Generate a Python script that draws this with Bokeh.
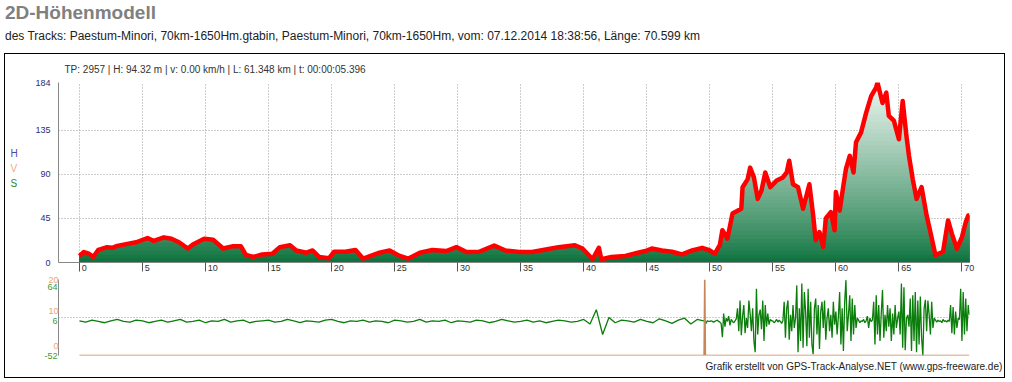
import numpy as np
from bokeh.plotting import figure
from bokeh.models import Range1d, LinearAxis, FixedTicker, Title, Label, Div, Spacer
from bokeh.layouts import column, row
from bokeh.embed import file_html
from bokeh.resources import INLINE

FONT = "Liberation Sans"

title_text = "2D-Höhenmodell"
subtitle_text = ("des Tracks: Paestum-Minori, 70km-1650Hm.gtabin, Paestum-Minori, 70km-1650Hm, "
                 "vom: 07.12.2014 18:38:56, Länge: 70.599 km")
info_text = "TP: 2957 | H: 94.32 m | v: 0.00 km/h | L: 61.348 km | t: 00:00:05.396"
credit_text = "Grafik erstellt von GPS-Track-Analyse.NET (www.gps-freeware.de)"
series_letters = ["H", "V", "S"]

# elevation profile (km, m)
dist_km = [0.0, 0.35, 0.75, 1.1, 1.5, 2.2, 2.6, 3.0, 3.8, 4.5, 5.4, 5.9, 6.7, 7.3, 7.9, 8.6, 9.0, 9.9,
           10.6, 11.4, 12.2, 12.8, 13.2, 13.8, 14.5, 15.3, 15.9, 16.7, 17.2, 18.0, 18.5, 19.0, 19.8,
           20.2, 21.1, 21.9, 22.5, 23.1, 23.8, 24.6, 25.4, 26.1, 27.0, 28.0, 29.1, 29.9, 30.7, 31.7,
           32.9, 33.8, 34.9, 35.9, 37.0, 38.0, 39.3, 39.9, 40.7, 41.2, 41.4, 42.2, 43.3, 44.3, 44.9,
           45.4, 46.2, 47.0, 47.8, 48.6, 49.4, 49.9, 50.4, 50.8, 51.0, 51.4, 51.8, 52.5, 52.6, 53.0,
           53.2, 53.5, 53.8, 54.1, 54.4, 54.8, 55.3, 55.8, 56.1, 56.3, 56.6, 57.0, 57.4, 57.9, 58.2,
           58.4, 58.7, 59.0, 59.2, 59.6, 59.9, 60.0, 60.3, 60.6, 60.8, 61.1, 61.4, 61.6, 62.0, 62.4,
           62.8, 63.2, 63.3, 63.7, 64.0, 64.2, 64.6, 65.0, 65.3, 65.6, 65.8, 66.1, 66.4, 66.8, 67.2,
           67.5, 67.9, 68.5, 68.9, 69.2, 69.6, 70.0, 70.3, 70.5, 70.6]
height_m = [6.7, 10.7, 9, 5.7, 13, 15.7, 15, 17, 19, 20.7, 25, 22, 25.7, 24.3, 20.7, 14.3, 18.3, 24.3,
            23.3, 14.3, 16.7, 16.7, 7.7, 5.7, 8.3, 9, 15.7, 17.7, 12.3, 10, 12.3, 5.7, 4.3,
            11, 11, 12.7, 4, 6.7, 10, 12.3, 6.7, 4, 10, 12.7, 11.7, 15.7, 10.7, 11,
            17.3, 12.3, 10.7, 10.7, 13.3, 15.7, 17.7, 14.3, 3.3, 15, 3.3, 5.7, 6.7, 10, 11.7,
            14.3, 12.3, 11, 8.3, 12.3, 15, 13, 9, 18, 33, 24.4, 50, 55, 77, 85,
            97, 87, 65, 73.6, 92, 77, 83.7, 87, 92, 104, 80, 77, 55, 80, 48,
            22.7, 31, 16, 45, 51.5, 33, 72, 53, 79, 95.6, 109, 92, 123, 133, 153,
            170, 179, 184, 163, 173.6, 150, 145, 126, 165, 129, 109, 85, 65, 77, 48,
            31, 7.5, 11, 43, 29.5, 14, 26, 41, 48, 48]
x_ticks = list(range(0, 75, 5))
h_ticks = [0, 45, 90, 135, 184]

# slope (%) : flat part every 0.5 km, hilly part every 0.1 km
slope_flat_start_km, slope_flat_step_km = 0.0, 0.5
slope_flat = [1, -1, 2, 0, -2, 1, 3, 0, -1, 2,
              1, -2, 0, 2, -1, 1, 3, -1, 0, 2,
              -2, 1, 0, 3, -1, 1, 2, -2, 0, 1,
              2, -1, 0, 3, 1, -2, 1, 0, -1, 2,
              3, 0, -2, 1, 0, 2, -1, 1, 0, -2,
              2, 1, -1, 0, 3, -1, 1, 0, 2, -2,
              1, 0, -1, 2, 1, -2, 0, 3, 1, -1,
              0, 2, -1, 1, -2, 0, 2, 1, -1, 0,
              3, -4, 18, -20, 6, -2, 2, 1, -1, 3,
              0, -2, 4, 1, -3, 2, 5, -4, 3, 1]
slope_hill_start_km, slope_hill_step_km = 49.6, 0.1
slope_hill = [2, -3, 1, 0,
              0, 1, 0, -1, 0, 1, 2, 0, -1, -3,
              -24, 12, -8, 5, 0, 8, -6, 3, 0, -2,
              1, 4, 20, -15, 32, -21, 8, 25, -18, 5,
              -10, 32, 12, -15, 20, -30, -47, 50, -20, 10,
              18, -12, 32, -30, 25, -8, 12, -5, 3, 1,
              1, -2, 0, 3, -1, 2, 0, -3, 1, 30,
              -25, 20, 32, -28, 10, -15, 25, -10, 5, 55,
              -47, 20, -30, 58, -40, 45, 15, -38, 50, -25,
              30, -35, -50, 20, 35, -20, 25, -42, 15, 30,
              -10, 32, -28, 5, 20, -15, 10, -25, 30, -5,
              15, -20, 8, 45, -35, 20, -45, 30, 63, -15,
              10, 40, -30, 35, -20, 25, -10, 5, 2, -2,
              1, 0, 3, -2, 1, 8, -10, 5, 0, 2,
              30, -35, 40, -20, 25, -30, 12, 48, -25, 10,
              -15, 25, -8, 20, -30, 12, -20, 25, -10, 5,
              15, -20, 58, -40, 52, -44, 5, 10, -8, 35,
              -45, 40, -30, 45, -47, 32, -35, 38, -25, -52,
              20, 33, -15, 32, 10, -20, 30, -10, 5, 2,
              -1, 2, 0, 1, -2, 3, 0, 1, -1, 2,
              0, 25, -18, 22, -20, 15, -10, 5, 3, 50,
              -30, 45, -20, 35, -15, 25, 10]
slope_tick_labels = ["-52", "6", "64"]

# speed (km/h)
speed_km = [0.0, 49.55, 49.6, 49.65, 70.6]
speed_kmh = [0, 0, 20, 0, 0]
speed_tick_labels = ["0", "10", "20"]

# ---------------------------------------------------------------
x_rng = Range1d(-1.66, 70.6)
W = 999
LEFT_W = 20
H_TOP = 221
GRID = dict(color="#9a9a9a", dash="1 2")

# narrow strip with the coloured series letters
p_hvs = figure(width=LEFT_W, height=H_TOP, x_range=Range1d(0, 1), y_range=Range1d(0, 184),
               output_backend="svg", toolbar_location=None, x_axis_location=None, y_axis_location=None,
               min_border_left=0, min_border_right=0, min_border_top=28, min_border_bottom=10,
               outline_line_color=None, background_fill_color="white", border_fill_color="white")
p_hvs.grid.visible = False
for txt, yv, colr in zip(series_letters, (111, 96, 81), ("#4a4aa8", "#f0a888", "#2a8a2a")):
    p_hvs.add_layout(Label(x=0.25, y=yv, text=txt, text_font=FONT, text_font_size="10px",
                           text_color=colr, text_baseline="middle", text_align="left"))

p_top = figure(width=W - LEFT_W, height=H_TOP, x_range=x_rng, y_range=Range1d(0, 184),
               output_backend="svg", toolbar_location=None,
               min_border_left=53 - LEFT_W, min_border_right=35, min_border_top=28, min_border_bottom=10,
               outline_line_color=None, background_fill_color="white", border_fill_color="white")

p_top.add_layout(Title(text=info_text, align="left", offset=6, standoff=15,
                       text_font=FONT, text_font_size="10px", text_font_style="normal",
                       text_color="#333333"), "above")

# gradient fill: painted from the top level downwards so bands overlap without seams
xk = np.array(dist_km, dtype=float)
hv = np.array(height_m, dtype=float)
levels = np.linspace(0, 184, 47)
c0 = np.array([8, 112, 58])
c1 = np.array([236, 246, 240])
for lo, hi in list(zip(levels[:-1], levels[1:]))[::-1]:
    if hv.max() <= lo:
        continue
    t = ((lo + hi) / 2 / 184.0) ** 0.8
    c = (c0 + (c1 - c0) * t).astype(int)
    col = "#%02x%02x%02x" % tuple(c)
    p_top.varea(x=xk, y1=np.zeros_like(hv), y2=np.minimum(hv, hi), fill_color=col, fill_alpha=1)

p_top.line(xk, hv, line_color="#ff0000", line_width=4.5, line_join="round")

p_top.xaxis.ticker = FixedTicker(ticks=x_ticks)
p_top.xaxis.major_label_overrides = {t: "\u2007" * len(str(t)) + "\u2002" + str(t) for t in x_ticks}
p_top.xaxis.major_tick_out = 9
p_top.xaxis.major_tick_in = 0
p_top.xaxis.minor_tick_line_color = None
p_top.xaxis.major_tick_line_color = "#555555"
p_top.xaxis.major_label_standoff = -9
p_top.xaxis.axis_line_color = "#888888"
p_top.xaxis.major_label_text_font = FONT
p_top.xaxis.major_label_text_font_size = "9px"
p_top.xaxis.major_label_text_color = "#333333"

p_top.yaxis.ticker = FixedTicker(ticks=h_ticks)
p_top.yaxis.major_tick_out = 0
p_top.yaxis.major_tick_in = 0
p_top.yaxis.minor_tick_line_color = None
p_top.yaxis.major_label_standoff = 8
p_top.yaxis.axis_line_color = "#888888"
p_top.yaxis.major_label_text_font = FONT
p_top.yaxis.major_label_text_font_size = "9px"
p_top.yaxis.major_label_text_color = "#2b2b7a"

p_top.xgrid.ticker = FixedTicker(ticks=x_ticks)
p_top.ygrid.ticker = FixedTicker(ticks=h_ticks)
for g in (p_top.xgrid[0], p_top.ygrid[0]):
    g.grid_line_color = GRID["color"]
    g.grid_line_dash = GRID["dash"]
    g.grid_line_width = 1

# ---------------------------------------------------------------
p_bot = figure(width=W, height=102, x_range=x_rng, y_range=Range1d(-52, 64),
               output_backend="svg", toolbar_location=None, x_axis_location=None,
               min_border_left=53, min_border_right=35, min_border_top=4, min_border_bottom=22,
               outline_line_color=None, background_fill_color="white", border_fill_color="white")
p_bot.extra_y_ranges = {"spd": Range1d(0, 20)}

# slope labels (green) sit a few pixels below their grid lines, as in the original
slope_label_pos = [-52, -0.1, 53.3]
p_bot.yaxis.ticker = FixedTicker(ticks=slope_label_pos)
p_bot.yaxis.major_label_overrides = dict(zip(slope_label_pos, slope_tick_labels))
p_bot.yaxis.axis_line_color = "#888888"
p_bot.yaxis.major_tick_line_color = None
p_bot.yaxis.minor_tick_line_color = None
p_bot.yaxis.major_tick_out = 0
p_bot.yaxis.major_tick_in = 0
p_bot.yaxis.minor_tick_out = 0
p_bot.yaxis.major_label_standoff = 1
p_bot.yaxis.major_label_text_font = FONT
p_bot.yaxis.major_label_text_font_size = "9px"
p_bot.yaxis.major_label_text_color = "#3a9a3a"

# speed labels (orange) sit a few pixels above their grid lines
speed_label_pos = [2.37, 11.58, 19.99]
ax_spd = LinearAxis(y_range_name="spd", ticker=FixedTicker(ticks=speed_label_pos),
                    major_label_overrides=dict(zip(speed_label_pos, speed_tick_labels)),
                    axis_line_color=None, major_tick_line_color=None, minor_tick_line_color=None,
                    major_tick_out=0, major_tick_in=0, minor_tick_out=0, minor_tick_in=0,
                    major_label_standoff=-17,
                    major_label_text_font=FONT, major_label_text_font_size="9px",
                    major_label_text_color="#e8a27a")
p_bot.add_layout(ax_spd, "left")

p_bot.ygrid.ticker = FixedTicker(ticks=[6, 64])
p_bot.ygrid.grid_line_color = GRID["color"]
p_bot.ygrid.grid_line_dash = GRID["dash"]
p_bot.xgrid.visible = False

sx_flat = slope_flat_start_km + slope_flat_step_km * np.arange(len(slope_flat))
sx_hill = slope_hill_start_km + slope_hill_step_km * np.arange(len(slope_hill))
sx = np.concatenate([sx_flat, sx_hill])
sy = np.array(slope_flat + slope_hill, dtype=float)
p_bot.line(sx, sy, line_color="#0a7d0a", line_width=1.3)

p_bot.line(speed_km, speed_kmh, y_range_name="spd", line_color="#c8875a", line_width=1.6)

p_bot.add_layout(Title(text=credit_text, align="right", offset=-33, standoff=6,
                       text_font=FONT, text_font_size="10px", text_font_style="normal",
                       text_color="#222222"), "below")

# ---------------------------------------------------------------
header = Div(text=(
    '<div style="font-family:\'Liberation Sans\',Arial,sans-serif;margin:0;padding:0;">'
    '<div style="font-size:19px;font-weight:bold;color:#808080;line-height:22px;height:22px;margin-top:2px;">'
    + title_text + '</div>'
    '<div style="font-size:12px;color:#222222;line-height:14px;margin-top:5px;white-space:nowrap;">'
    + subtitle_text + '</div></div>'),
    width=1000, height=53, margin=(0, 0, 0, 5))

BLACK = {"background-color": "#000000"}
box_inner = column(Spacer(width=W, height=1, styles=BLACK), row(p_hvs, p_top, spacing=0), p_bot,
                   Spacer(width=W, height=1, styles=BLACK), spacing=0)
box = row(Spacer(width=4, height=325), Spacer(width=1, height=325, styles=BLACK), box_inner,
          Spacer(width=1, height=325, styles=BLACK), spacing=0)
layout = column(header, box, spacing=0)

open("out.html", "w").write(file_html(layout, INLINE))
